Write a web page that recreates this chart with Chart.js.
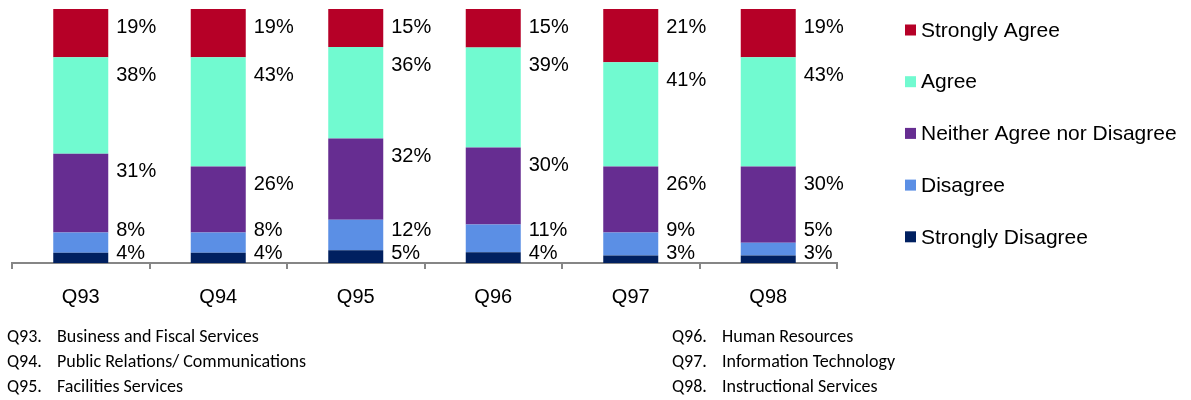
<!DOCTYPE html>
<html>
<head>
<meta charset="utf-8">
<title>Survey responses Q93-Q98</title>
<script src="https://cdn.jsdelivr.net/npm/chart.js@4.4.1/dist/chart.umd.min.js"></script>
<style>
    html, body { margin: 0; padding: 0; background: #ffffff; }
    #wrap { position: relative; width: 1191px; height: 400px; overflow: hidden; }
    #surveyChart { position: absolute; left: 0; top: 0; }
    .notes { position: absolute; top: 324px; font-family: Calibri, Carlito, Lato, sans-serif; font-size: 18px; line-height: 25px; color: #000; }
    .notes div { white-space: nowrap; }
    .notes .code { display: inline-block; width: 50px; }
</style>
</head>
<body>
<div id="wrap">
    <canvas id="surveyChart" width="1191" height="337"></canvas>
    <div class="notes" id="notesLeft" style="left:7px;"></div>
    <div class="notes" id="notesRight" style="left:672px;"></div>
</div>
<script>
// Date (procente)
const categories = ['Q93', 'Q94', 'Q95', 'Q96', 'Q97', 'Q98'];
const questionNames = [
    'Business and Fiscal Services',
    'Public Relations/ Communications',
    'Facilities Services',
    'Human Resources',
    'Information Technology',
    'Instructional Services'
];
const seriesNames = ['Strongly Disagree', 'Disagree', 'Neither Agree nor Disagree', 'Agree', 'Strongly Agree'];
const stronglyDisagree = [4, 4, 5, 4.2, 3, 3];
const disagree = [8, 8, 12, 11.0, 9, 5];
const neither = [31, 26, 32, 30.3, 26, 30];
const agree = [38, 43, 36, 39.3, 41, 43];
const stronglyAgree = [19, 19, 15, 15.2, 21, 19];
const seriesColors = ['#002060', '#5B8FE5', '#662D91', '#71FAD0', '#B60027'];

const seriesValues = [stronglyDisagree, disagree, neither, agree, stronglyAgree];

// Etichetele procentuale din dreapta fiecărui segment
const segmentLabels = {
    id: 'segmentLabels',
    afterDatasetsDraw(chart) {
        const ctx = chart.ctx;
        const base = chart.scales.y.getPixelForValue(0);
        ctx.save();
        ctx.font = '20px "Liberation Sans", Arial, sans-serif';
        ctx.fillStyle = '#000000';
        ctx.textAlign = 'left';
        ctx.textBaseline = 'middle';
        categories.forEach((c, i) => {
            let prevY = base - 10 + 23;
            chart.data.datasets.forEach((ds, d) => {
                const bar = chart.getDatasetMeta(d).data[i];
                let y = Math.min(bar.y + 18, prevY - 23);
                prevY = y;
                ctx.fillText(Math.round(ds.data[i]) + '%', bar.x + bar.width / 2 + 8, y);
            });
        });
        ctx.restore();
    }
};

// Legenda desenată manual, în ordine inversă (de sus în jos)
const sideLegend = {
    id: 'sideLegend',
    afterDraw(chart) {
        const ctx = chart.ctx;
        ctx.save();
        ctx.font = '21px "Liberation Sans", Arial, sans-serif';
        ctx.textAlign = 'left';
        ctx.textBaseline = 'middle';
        const items = chart.data.datasets.slice().reverse();
        items.forEach((ds, k) => {
            const y = 30 + k * 51.7;
            ctx.fillStyle = ds.backgroundColor;
            ctx.fillRect(905, y - 5.5, 11, 11);
            ctx.fillStyle = '#000000';
            ctx.fillText(ds.label, 921, y + 1);
        });
        ctx.restore();
    }
};

const ctx = document.getElementById('surveyChart').getContext('2d');
Chart.defaults.font.family = '"Liberation Sans", Arial, sans-serif';
Chart.defaults.color = '#000000';

new Chart(ctx, {
    type: 'bar',
    data: {
        labels: categories,
        datasets: seriesNames.map((name, d) => ({
            label: name,
            data: seriesValues[d],
            backgroundColor: seriesColors[d],
            borderWidth: 0,
            categoryPercentage: 1.0,
            barPercentage: 0.4
        }))
    },
    options: {
        responsive: false,
        animation: false,
        layout: {
            padding: { left: 12, right: 354, top: 9, bottom: 12 }
        },
        scales: {
            x: {
                stacked: true,
                grid: {
                    offset: true,
                    drawOnChartArea: false,
                    drawTicks: true,
                    tickLength: 6,
                    color: '#868686',
                    lineWidth: 2
                },
                border: { color: '#868686', width: 2 },
                ticks: {
                    padding: 16,
                    font: { size: 20 },
                    color: '#000000'
                }
            },
            y: {
                stacked: true,
                display: false,
                min: 0,
                max: 100
            }
        },
        plugins: {
            legend: { display: false },
            tooltip: { enabled: false }
        }
    },
    plugins: [segmentLabels, sideLegend]
});

// Notele de subsol cu denumirea întrebărilor
function fillNotes(elId, from, to) {
    const box = document.getElementById(elId);
    for (let i = from; i < to; i++) {
        const row = document.createElement('div');
        const code = document.createElement('span');
        code.className = 'code';
        code.textContent = categories[i] + '.';
        row.appendChild(code);
        row.appendChild(document.createTextNode(questionNames[i]));
        box.appendChild(row);
    }
}
fillNotes('notesLeft', 0, 3);
fillNotes('notesRight', 3, 6);
</script>
</body>
</html>
